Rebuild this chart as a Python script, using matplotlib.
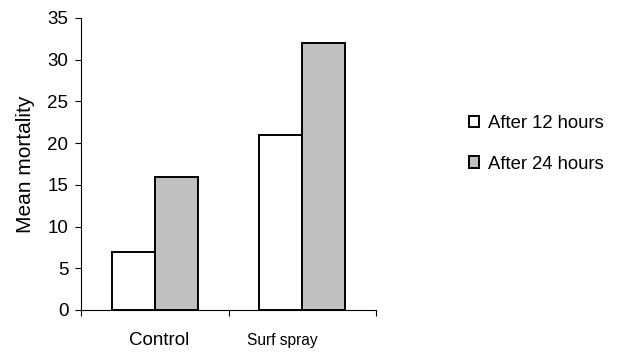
import numpy as np
import matplotlib.pyplot as plt

plt.rcParams['font.family'] = ['Liberation Sans', 'DejaVu Sans']

categories = ['Control', 'Surf spray']
after_12 = [7, 21]
after_24 = [16, 32]
series_names = ['After 12 hours', 'After 24 hours']

fig = plt.figure(figsize=(6.18, 3.56), dpi=100)
ax = fig.add_axes([81 / 618, 46 / 356, (376 - 81) / 618, (310 - 18) / 356])

x = np.arange(len(categories)) + 0.5
w = 0.29
ax.bar(x - w / 2, after_12, w, color='white', edgecolor='black', linewidth=1.4,
       label=series_names[0], zorder=3)
ax.bar(x + w / 2, after_24, w, color='#c0c0c0', edgecolor='black', linewidth=1.4,
       label=series_names[1], zorder=3)

ax.set_xlim(0, len(categories))
ax.set_ylim(0, 35)
ax.set_yticks(range(0, 36, 5))
ax.set_xticks(np.arange(len(categories) + 1))
ax.set_xticklabels([])
ax.tick_params(axis='both', direction='out', length=4, width=0.8, labelsize=13.5)
ax.tick_params(axis='y', pad=5)

for s in ['top', 'right']:
    ax.spines[s].set_visible(False)
for s in ['left', 'bottom']:
    ax.spines[s].set_linewidth(0.8)

# category labels (slightly off-centre in the original)
label_shift = [0.03, -0.135]
label_size = [13.5, 11.2]
for xi, name, dx, fs in zip(x, categories, label_shift, label_size):
    ax.text(xi + dx, -3.6, name, ha='center', va='center', fontsize=fs)

ax.set_ylabel('Mean mortality', fontsize=15, labelpad=9)

fig.legend(loc='center left', bbox_to_anchor=(460 / 618, 1 - 144 / 356),
           frameon=False, fontsize=13.3, handlelength=0.55, handleheight=0.55,
           handletextpad=0.45, labelspacing=1.25, borderpad=0)

fig.savefig('out.png', dpi=100)
